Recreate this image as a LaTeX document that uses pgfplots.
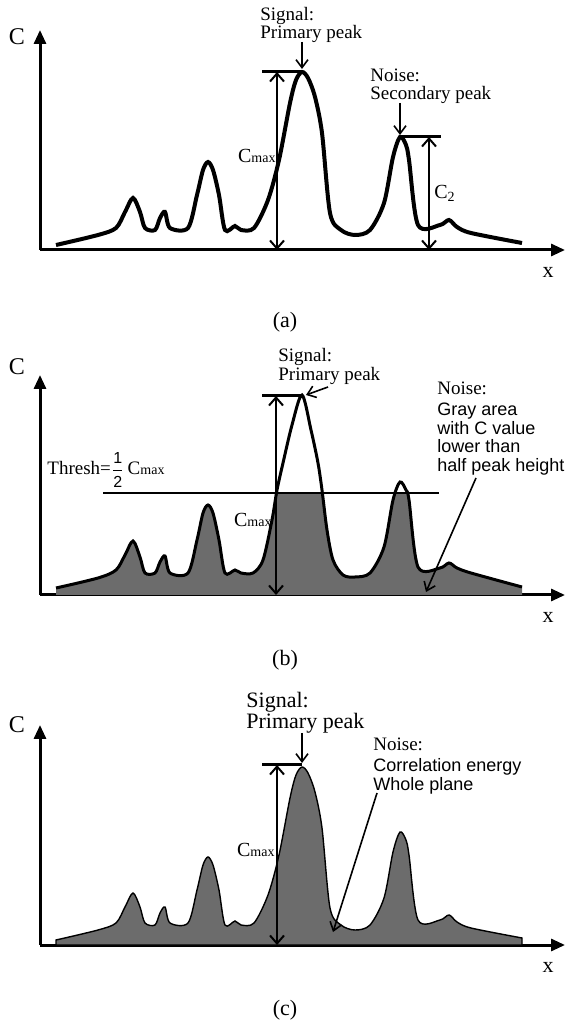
\documentclass[border=0pt]{standalone}
\usepackage{fontspec}
\setmainfont{Liberation Serif}
\setsansfont{Liberation Sans}
\usepackage{amsmath}
\usepackage{pgfplots}
\usepackage{pgfplotstable}
\pgfplotsset{compat=1.18}
\usetikzlibrary{arrows.meta}

\definecolor{fillgray}{RGB}{108,108,108}
\newcommand{\Cmax}{C{\fontsize{7}{7}\selectfont max}}
\newcommand{\half}{$\dfrac{\text{\sffamily\fontsize{8}{8}\selectfont 1}}{\text{\sffamily\fontsize{8}{8}\selectfont 2}}$}

% curve of panels (a) and (c): x in px, C above the x axis
\pgfplotstableread{
x C
56 5
98 15
116 22
125 38
133 52
140 38
145 22
155 20
160 32
165 38
170 22
188 22
197 55
203 80
208 88
213 80
219 55
225 20
235 24
241 20
254 22
268 50
279 90
290 147
296 170
302 178
308 172
315 153
322 117
330 37
341 20
355 15
370 20
384 47
393 93
400 113
406 105
409 90
418 25
440 25
449 30
457 23
471 17
522 7
}\curveA

% panel (b): same curve with a taller, narrower main peak
\pgfplotstableread{
x C
56 7
98 17
116 25
125 40
133 54
140 38
145 22
155 22
160 33
165 39
170 22
188 22
197 55
203 82
208 90
213 82
219 55
225 22
235 25
241 22
253 22
263 35
272 75
277 105
283 132
292 170
302 200
311 165
318 132
322 105
327 65
333 35
343 20
355 18
370 22
384 48
393 95
400 113
406 105
409 95
418 28
440 27
449 32
457 27
471 22
522 8
}\curveB

\pgfplotsset{
  panel/.style={x=0.5pt, y=0.5pt, xmin=40, xmax=565, ymin=0, ymax=220,
    axis lines=left, xtick=\empty, ytick=\empty, clip=false,
    enlargelimits=false, anchor=south west,
    axis line style={line width=1.5pt, -{Triangle[length=7pt,width=6pt]}}},
}
\tikzset{
  dbl/.style={line width=1pt, {Straight Barb[length=4pt,width=7pt]}-{Straight Barb[length=4pt,width=7pt]}},
  one/.style={line width=0.8pt, -{Straight Barb[length=4pt,width=6pt]}},
  topline/.style={line width=1.5pt},
  lbl/.style={inner sep=0pt, font=\fontsize{9.5}{11}\selectfont},
  sans/.style={inner sep=0pt, font=\sffamily\fontsize{9}{11}\selectfont},
}

\begin{document}
\begin{tikzpicture}

% ---------------- (a)
\begin{axis}[panel, at={(20pt,387pt)}]
\addplot[line width=2pt, smooth, tension=0.5] table[x=x, y=C] {\curveA};
\draw[topline] (axis cs:262,178) -- (axis cs:302,178);
\draw[dbl] (axis cs:277,0) -- (axis cs:277,178);
\draw[topline] (axis cs:400,113) -- (axis cs:441,113);
\draw[dbl] (axis cs:429,0) -- (axis cs:429,113);
\draw[one] (axis cs:302,208) -- (axis cs:302,181);
\draw[one] (axis cs:400,147) -- (axis cs:400,115);
\node[lbl, anchor=base west] at (axis cs:260,229) {Signal:};
\node[lbl, anchor=base west] at (axis cs:260,211) {Primary peak};
\node[lbl, anchor=base west] at (axis cs:370,168) {Noise:};
\node[lbl, anchor=base west] at (axis cs:370,150) {Secondary peak};
\node[inner sep=0pt, anchor=east, font=\fontsize{10}{12}\selectfont] at (axis cs:276,94) {\Cmax};
\node[inner sep=0pt, anchor=west, font=\fontsize{10}{12}\selectfont] at (axis cs:434,57) {C\textsubscript{2}};
\node[font=\fontsize{12}{14}\selectfont] at (axis cs:17,213) {C};
\node[font=\fontsize{11}{13}\selectfont] at (axis cs:548,-22) {x};
\node[font=\fontsize{11}{13}\selectfont] at (axis cs:285,-72) {(a)};
\end{axis}

% ---------------- (b)
\begin{axis}[panel, at={(20pt,214.5pt)}]
% gray area under the curve, then the part above the threshold masked out
\addplot[fill=fillgray, draw=none, smooth, tension=0.5] table[x=x, y=C] {\curveB} \closedcycle;
\fill[white] (axis cs:50,102) rectangle (axis cs:530,215);
\addplot[line width=1.5pt, smooth, tension=0.5] table[x=x, y=C] {\curveB};
\addplot[line width=1pt] coordinates {(103,102) (439,102)};
\draw[topline] (axis cs:262,199) -- (axis cs:302,199);
\draw[dbl] (axis cs:276,0) -- (axis cs:276,199);
\draw[one] (axis cs:328,208) -- (axis cs:306,200);
\node[lbl, anchor=base west] at (axis cs:278,233) {Signal:};
\node[lbl, anchor=base west] at (axis cs:278,214) {Primary peak};
\node[lbl, anchor=base west] at (axis cs:47,120) {Thresh=\half\,\Cmax};
\node[inner sep=0pt, anchor=east, font=\fontsize{10}{12}\selectfont] at (axis cs:272,75) {\Cmax};
\node[lbl, anchor=base west] at (axis cs:437,200) {Noise:};
\node[sans, anchor=base west] at (axis cs:437,179) {Gray area};
\node[sans, anchor=base west] at (axis cs:437,160) {with C value};
\node[sans, anchor=base west] at (axis cs:437,142) {lower than};
\node[sans, anchor=base west] at (axis cs:437,123) {half peak height};
\draw[one] (axis cs:476,117) -- (axis cs:426,3);
\node[font=\fontsize{12}{14}\selectfont] at (axis cs:17,228) {C};
\node[font=\fontsize{11}{13}\selectfont] at (axis cs:548,-22) {x};
\node[font=\fontsize{11}{13}\selectfont] at (axis cs:285,-65) {(b)};
\end{axis}

% ---------------- (c)
\begin{axis}[panel, at={(20pt,39.5pt)}]
\addplot[fill=fillgray, draw=black, line width=0.7pt, smooth, tension=0.5] table[x=x, y=C] {\curveA} \closedcycle;
\draw[topline] (axis cs:262,180) -- (axis cs:302,180);
\draw[dbl] (axis cs:277,0) -- (axis cs:277,180);
\draw[one] (axis cs:302,212) -- (axis cs:302,182);
\node[inner sep=0pt, anchor=base west, font=\fontsize{11}{13}\selectfont] at (axis cs:246,237) {Signal:};
\node[inner sep=0pt, anchor=base west, font=\fontsize{11}{13}\selectfont] at (axis cs:246,216) {Primary peak};
\node[inner sep=0pt, anchor=east, font=\fontsize{10}{12}\selectfont] at (axis cs:275,95) {\Cmax};
\node[lbl, anchor=base west] at (axis cs:373,194) {Noise:};
\node[sans, anchor=base west] at (axis cs:373,174) {Correlation energy};
\node[sans, anchor=base west] at (axis cs:373,155) {Whole plane};
\draw[one] (axis cs:377,152) -- (axis cs:333,13);
\node[font=\fontsize{12}{14}\selectfont] at (axis cs:17,220) {C};
\node[font=\fontsize{11}{13}\selectfont] at (axis cs:548,-22) {x};
\node[font=\fontsize{11}{13}\selectfont] at (axis cs:285,-65) {(c)};
\end{axis}

\pgfresetboundingbox
\path[use as bounding box] (0,0) rectangle (284pt,512pt);
\end{tikzpicture}
\end{document}
